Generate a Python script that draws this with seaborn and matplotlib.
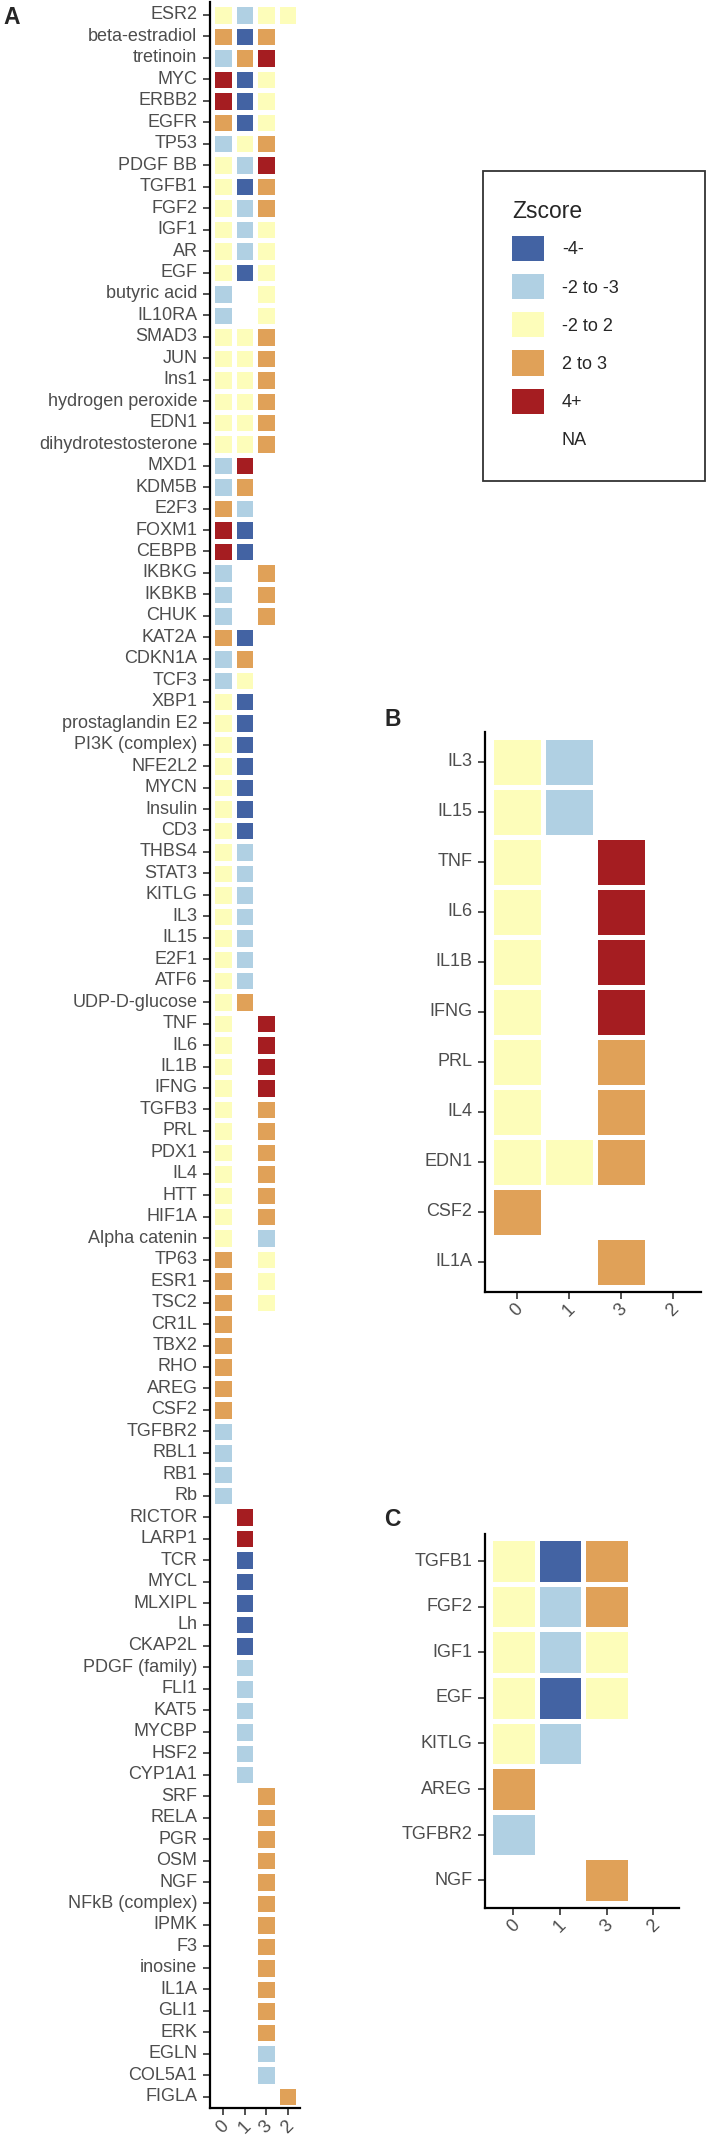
import numpy as np
import pandas as pd
import matplotlib
matplotlib.use('Agg')
import matplotlib.pyplot as plt
from matplotlib.colors import ListedColormap
from matplotlib.patches import Patch
import seaborn as sns

# Zscore classes (legend order) and their colours
zscore_labels = ['-4-', '-2 to -3', '-2 to 2', '2 to 3', '4+', 'NA']
zscore_colors = ['#4363A3', '#B0D0E3', '#FDFDBA', '#E0A158', '#A51D21']
code_map = {'D': 0, 'L': 1, 'Y': 2, 'O': 3, 'R': 4, '-': np.nan}

columns = ['0', '1', '3', '2']

# ---- panel A ----
rows_a = ['ESR2', 'beta-estradiol', 'tretinoin', 'MYC', 'ERBB2', 'EGFR', 'TP53', 'PDGF BB', 'TGFB1', 'FGF2',
          'IGF1', 'AR', 'EGF', 'butyric acid', 'IL10RA', 'SMAD3', 'JUN', 'Ins1', 'hydrogen peroxide', 'EDN1',
          'dihydrotestosterone', 'MXD1', 'KDM5B', 'E2F3', 'FOXM1', 'CEBPB', 'IKBKG', 'IKBKB', 'CHUK', 'KAT2A',
          'CDKN1A', 'TCF3', 'XBP1', 'prostaglandin E2', 'PI3K (complex)', 'NFE2L2', 'MYCN', 'Insulin', 'CD3', 'THBS4',
          'STAT3', 'KITLG', 'IL3', 'IL15', 'E2F1', 'ATF6', 'UDP-D-glucose', 'TNF', 'IL6', 'IL1B',
          'IFNG', 'TGFB3', 'PRL', 'PDX1', 'IL4', 'HTT', 'HIF1A', 'Alpha catenin', 'TP63', 'ESR1',
          'TSC2', 'CR1L', 'TBX2', 'RHO', 'AREG', 'CSF2', 'TGFBR2', 'RBL1', 'RB1', 'Rb',
          'RICTOR', 'LARP1', 'TCR', 'MYCL', 'MLXIPL', 'Lh', 'CKAP2L', 'PDGF (family)', 'FLI1', 'KAT5',
          'MYCBP', 'HSF2', 'CYP1A1', 'SRF', 'RELA', 'PGR', 'OSM', 'NGF', 'NFkB (complex)', 'IPMK',
          'F3', 'inosine', 'IL1A', 'GLI1', 'ERK', 'EGLN', 'COL5A1', 'FIGLA']

a_col0 = ['Y', 'O', 'L', 'R', 'R', 'O', 'L', 'Y', 'Y', 'Y',
          'Y', 'Y', 'Y', 'L', 'L', 'Y', 'Y', 'Y', 'Y', 'Y',
          'Y', 'L', 'L', 'O', 'R', 'R', 'L', 'L', 'L', 'O',
          'L', 'L', 'Y', 'Y', 'Y', 'Y', 'Y', 'Y', 'Y', 'Y',
          'Y', 'Y', 'Y', 'Y', 'Y', 'Y', 'Y', 'Y', 'Y', 'Y',
          'Y', 'Y', 'Y', 'Y', 'Y', 'Y', 'Y', 'Y', 'O', 'O',
          'O', 'O', 'O', 'O', 'O', 'O', 'L', 'L', 'L', 'L',
          '-', '-', '-', '-', '-', '-', '-', '-', '-', '-',
          '-', '-', '-', '-', '-', '-', '-', '-', '-', '-',
          '-', '-', '-', '-', '-', '-', '-', '-']
a_col1 = ['L', 'D', 'O', 'D', 'D', 'D', 'Y', 'L', 'D', 'L',
          'L', 'L', 'D', '-', '-', 'Y', 'Y', 'Y', 'Y', 'Y',
          'Y', 'R', 'O', 'L', 'D', 'D', '-', '-', '-', 'D',
          'O', 'Y', 'D', 'D', 'D', 'D', 'D', 'D', 'D', 'L',
          'L', 'L', 'L', 'L', 'L', 'L', 'O', '-', '-', '-',
          '-', '-', '-', '-', '-', '-', '-', '-', '-', '-',
          '-', '-', '-', '-', '-', '-', '-', '-', '-', '-',
          'R', 'R', 'D', 'D', 'D', 'D', 'D', 'L', 'L', 'L',
          'L', 'L', 'L', '-', '-', '-', '-', '-', '-', '-',
          '-', '-', '-', '-', '-', '-', '-', '-']
a_col3 = ['Y', 'O', 'R', 'Y', 'Y', 'Y', 'O', 'R', 'O', 'O',
          'Y', 'Y', 'Y', 'Y', 'Y', 'O', 'O', 'O', 'O', 'O',
          'O', '-', '-', '-', '-', '-', 'O', 'O', 'O', '-',
          '-', '-', '-', '-', '-', '-', '-', '-', '-', '-',
          '-', '-', '-', '-', '-', '-', '-', 'R', 'R', 'R',
          'R', 'O', 'O', 'O', 'O', 'O', 'O', 'L', 'Y', 'Y',
          'Y', '-', '-', '-', '-', '-', '-', '-', '-', '-',
          '-', '-', '-', '-', '-', '-', '-', '-', '-', '-',
          '-', '-', '-', 'O', 'O', 'O', 'O', 'O', 'O', 'O',
          'O', 'O', 'O', 'O', 'O', 'L', 'L', '-']
a_col2 = ['Y'] + ['-'] * 96 + ['O']

# ---- panel B ----
rows_b = ['IL3', 'IL15', 'TNF', 'IL6', 'IL1B', 'IFNG', 'PRL', 'IL4', 'EDN1', 'CSF2', 'IL1A']
b_col0 = ['Y', 'Y', 'Y', 'Y', 'Y', 'Y', 'Y', 'Y', 'Y', 'O', '-']
b_col1 = ['L', 'L', '-', '-', '-', '-', '-', '-', 'Y', '-', '-']
b_col3 = ['-', '-', 'R', 'R', 'R', 'R', 'O', 'O', 'O', '-', 'O']
b_col2 = ['-'] * 11

# ---- panel C ----
rows_c = ['TGFB1', 'FGF2', 'IGF1', 'EGF', 'KITLG', 'AREG', 'TGFBR2', 'NGF']
c_col0 = ['Y', 'Y', 'Y', 'Y', 'Y', 'O', 'L', '-']
c_col1 = ['D', 'L', 'L', 'D', 'L', '-', '-', '-']
c_col3 = ['O', 'O', 'Y', 'Y', '-', '-', '-', 'O']
c_col2 = ['-'] * 8


def make_frame(rows, cols):
    data = {name: [code_map[v] for v in col] for name, col in zip(columns, cols)}
    return pd.DataFrame(data, index=rows, columns=columns)


df_a = make_frame(rows_a, [a_col0, a_col1, a_col3, a_col2])
df_b = make_frame(rows_b, [b_col0, b_col1, b_col3, b_col2])
df_c = make_frame(rows_c, [c_col0, c_col1, c_col3, c_col2])

sns.set_style('white')
plt.rcParams['font.family'] = ['Liberation Sans', 'DejaVu Sans']

W, H = 708, 2140
fig = plt.figure(figsize=(W / 100, H / 100), dpi=100)
cmap = ListedColormap(zscore_colors)


def panel(df, x0, ux, y0, uy, xlim, ylim):
    # place axes so that one cell is ux x uy pixels, origin at (x0, y0)
    left = x0 + xlim[0] * ux
    right = x0 + xlim[1] * ux
    top = y0 + ylim[1] * uy
    bottom = y0 + ylim[0] * uy
    ax = fig.add_axes([left / W, 1 - bottom / H, (right - left) / W, (bottom - top) / H])
    sns.heatmap(df, cmap=cmap, vmin=-0.5, vmax=4.5, cbar=False, linewidths=3.6,
                linecolor='white', xticklabels=list(df.columns),
                yticklabels=list(df.index), ax=ax)
    ax.set_xlim(*xlim)
    ax.set_ylim(*ylim)
    for s in ['left', 'bottom']:
        ax.spines[s].set_visible(True)
        ax.spines[s].set_color('black')
        ax.spines[s].set_linewidth(1.6)
    ax.tick_params(axis='both', length=5, width=1.2, color='#333333',
                   labelcolor='#4D4D4D', labelsize=13, left=True, bottom=True)
    ax.tick_params(axis='y', pad=4)
    ax.tick_params(axis='x', pad=1.5)
    ax.set_xlabel('')
    ax.set_ylabel('')
    plt.setp(ax.get_yticklabels(), rotation=0)
    plt.setp(ax.get_xticklabels(), rotation=45, ha='center', va='top')
    return ax


ax_a = panel(df_a, 212.25, 21.5, 4.27, 21.46, (-0.105, 4.08), (98.05, -0.1))
ax_b = panel(df_b, 490.7, 52, 736.6, 50, (-0.11, 4.05), (11.1, -0.09))
ax_c = panel(df_c, 490, 46.7, 1538.2, 45.6, (-0.11, 4.05), (8.1, -0.1))

# legend
handles = [Patch(facecolor=c, edgecolor='none') for c in zscore_colors]
handles.append(Patch(facecolor='none', edgecolor='none'))
leg = fig.legend(handles, zscore_labels, title='Zscore', loc='upper left',
                 bbox_to_anchor=(483 / W, 1 - 171 / H, 222 / W, 0), mode='expand',
                 borderaxespad=0, fontsize=13, title_fontsize=16.5,
                 handlelength=1.77, handleheight=1.77, labelspacing=0.72,
                 handletextpad=1.0, borderpad=1.6, alignment='left',
                 frameon=True, fancybox=False)
leg.get_frame().set_edgecolor('black')
leg.get_frame().set_linewidth(1.3)

# panel tags
fig.text(3 / W, 1 - 6 / H, 'A', fontsize=16.5, fontweight='bold', va='top', ha='left')
fig.text(384 / W, 1 - 708 / H, 'B', fontsize=16.5, fontweight='bold', va='top', ha='left')
fig.text(384 / W, 1 - 1508 / H, 'C', fontsize=16.5, fontweight='bold', va='top', ha='left')

fig.savefig('out.png', dpi=100)
